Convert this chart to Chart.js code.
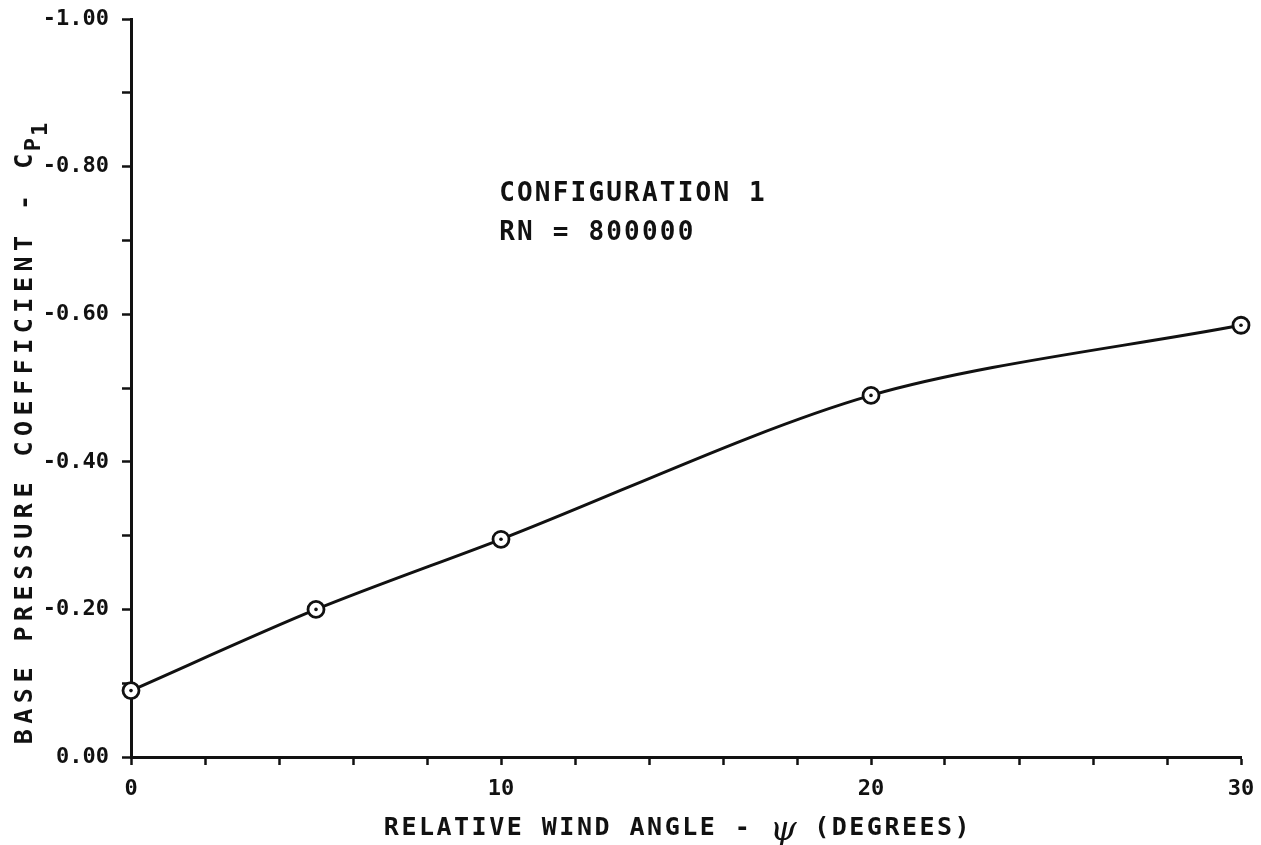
<!DOCTYPE html>
<html>
<head>
<meta charset="utf-8">
<title>Base pressure coefficient</title>
<script src="https://cdn.jsdelivr.net/npm/chart.js@4.4.0/dist/chart.umd.min.js"></script>
<style>
  html, body { margin: 0; padding: 0; background: #fff; }
  #chart { display: block; }
</style>
</head>
<body>
<canvas id="chart" width="1261" height="845"></canvas>
<script>
// Measured points
const windAngle = [0, 5, 10, 20, 30];
const baseCp = [-0.09, -0.20, -0.295, -0.49, -0.585];

// Axis ticks
const xTickLabels = [0, 10, 20, 30];
const yTickLabels = [0, -0.2, -0.4, -0.6, -0.8, -1.0];

const FONT = "'DejaVu Sans Mono', monospace";
const INK = "#111";

const points = windAngle.map((x, i) => ({ x: x, y: baseCp[i] }));

function setFont(ctx, size, spacing, style) {
  ctx.font = (style || "bold") + " " + size + "px " + FONT;
  ctx.letterSpacing = spacing + "px";
}

// Titles, note text and subscripts
const textPlugin = {
  id: "plotText",
  afterDraw(chart) {
    const ctx = chart.ctx;
    const xs = chart.scales.x;
    ctx.save();
    ctx.fillStyle = INK;
    ctx.textBaseline = "middle";

    // configuration note
    setFont(ctx, 26, 2.2);
    ctx.textAlign = "left";
    const nx = xs.getPixelForValue(9.95);
    ctx.fillText("CONFIGURATION 1", nx, 194);
    ctx.fillText("RN = 800000", nx, 233);

    // x axis title
    const left = "RELATIVE WIND ANGLE - ";
    const right = " (DEGREES)";
    setFont(ctx, 25, 2.5);
    const wl = ctx.measureText(left).width;
    const wr = ctx.measureText(right).width;
    ctx.font = "italic 34px 'DejaVu Serif', serif";
    ctx.letterSpacing = "0px";
    const wp = ctx.measureText("\u03C8").width;
    let tx = 678 - (wl + wp + wr) / 2;
    const ty = 828;
    setFont(ctx, 25, 2.5);
    ctx.fillText(left, tx, ty);
    tx += wl;
    ctx.font = "italic 34px 'DejaVu Serif', serif";
    ctx.letterSpacing = "0px";
    ctx.fillText("\u03C8", tx, ty + 3);
    tx += wp;
    setFont(ctx, 25, 2.5);
    ctx.fillText(right, tx, ty);

    // y axis title, rotated
    ctx.translate(25, 432);
    ctx.rotate(-Math.PI / 2);
    const main = "BASE PRESSURE COEFFICIENT - C";
    setFont(ctx, 25, 5.5);
    const wm = ctx.measureText(main).width;
    setFont(ctx, 22, 1);
    const ws = ctx.measureText("P").width;
    const w1 = ctx.measureText("1").width;
    let yx = -(wm + ws + w1) / 2;
    setFont(ctx, 25, 5.5);
    ctx.fillText(main, yx, 0);
    yx += wm - 3;
    setFont(ctx, 22, 1);
    ctx.fillText("P", yx, 9);
    yx += ws;
    ctx.fillText("1", yx + 1, 16);
    ctx.restore();
  }
};

new Chart(document.getElementById("chart"), {
  type: "scatter",
  data: {
    datasets: [
      {
        data: points,
        showLine: true,
        clip: false,
        borderColor: INK,
        borderWidth: 3,
        tension: 0.3,
        pointRadius: 8,
        pointBorderWidth: 2.8,
        pointBorderColor: INK,
        pointBackgroundColor: "#fff",
        order: 2
      },
      {
        // centre dots of the symbols
        data: points,
        showLine: false,
        clip: false,
        pointRadius: 1.8,
        pointBorderWidth: 0,
        pointBackgroundColor: INK,
        order: 1
      }
    ]
  },
  options: {
    responsive: false,
    animation: false,
    events: [],
    layout: { autoPadding: false, padding: { top: 19, right: 20, left: 0, bottom: 0 } },
    plugins: {
      legend: { display: false },
      tooltip: { enabled: false }
    },
    scales: {
      x: {
        type: "linear",
        min: 0,
        max: 30,
        afterFit(scale) {
          scale.height = 88;
          scale.paddingLeft = 0;
          scale.paddingRight = 0;
        },
        border: { display: true, color: INK, width: 3 },
        grid: {
          drawOnChartArea: false,
          drawTicks: true,
          tickLength: 8,
          tickWidth: 2.5,
          tickColor: INK
        },
        ticks: {
          stepSize: 2,
          padding: 11,
          color: INK,
          font: { family: FONT, size: 22, weight: "bold" },
          maxRotation: 0,
          autoSkip: false,
          callback: (v) => (xTickLabels.includes(v) ? String(v) : "")
        }
      },
      y: {
        type: "linear",
        min: -1,
        max: 0,
        reverse: true,
        afterFit(scale) {
          scale.width = 131;
          scale.paddingTop = 0;
          scale.paddingBottom = 0;
        },
        border: { display: true, color: INK, width: 3 },
        grid: {
          drawOnChartArea: false,
          drawTicks: true,
          tickLength: 9,
          tickWidth: 2.5,
          tickColor: INK
        },
        ticks: {
          stepSize: 0.1,
          padding: 13,
          color: INK,
          font: { family: FONT, size: 22, weight: "bold" },
          autoSkip: false,
          callback: (v) => {
            const hit = yTickLabels.find((t) => Math.abs(t - v) < 1e-6);
            return hit === undefined ? "" : hit.toFixed(2);
          }
        }
      }
    }
  },
  plugins: [textPlugin]
});
</script>
</body>
</html>
